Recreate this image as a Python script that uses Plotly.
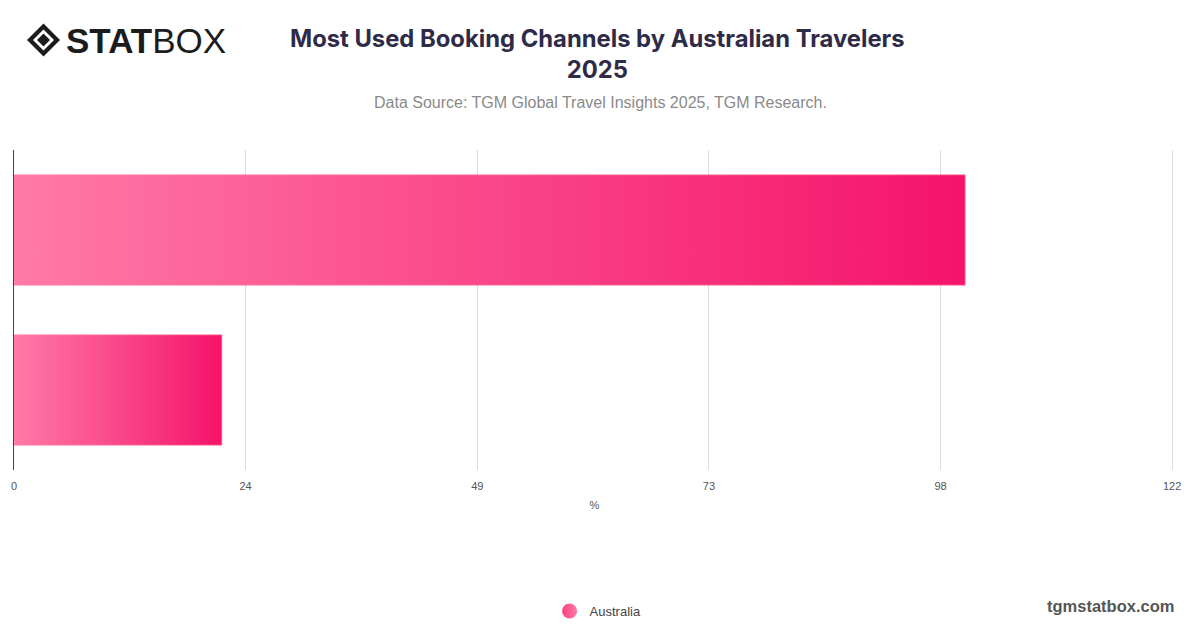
import plotly.graph_objects as go

categories = ["Online travel agencies", "Direct with provider"]
values = [100.2, 21.9]
series_name = "Australia"
tick_values = [0, 24.4, 48.8, 73.2, 97.6, 122]
tick_labels = ["0", "24", "49", "73", "98", "122"]

bar_half = 0.345
fig = go.Figure()
for i, (cat, v) in enumerate(zip(categories, values)):
    fig.add_trace(go.Scatter(
        x=[0, v, v, 0, 0],
        y=[i - bar_half, i - bar_half, i + bar_half, i + bar_half, i - bar_half],
        mode="lines", fill="toself",
        line=dict(width=1, color="rgba(255,140,175,0.7)"),
        fillgradient=dict(type="horizontal",
                          colorscale=[[0, "#ff7aa7"], [1, "#f5136a"]]),
        name=cat, showlegend=False, hoverinfo="skip"))

fig.add_trace(go.Scatter(
    x=[None], y=[None], mode="markers", name=series_name,
    marker=dict(symbol="circle", size=15,
                color="#f7417f",
                gradient=dict(type="horizontal", color="#ff7aa7"))))

# paper coordinate helpers (screen pixels; plot area 14..~1175 x, 150..470 y)
PLOT_W = 1158 * 122.3 / 122
def px(x):
    return (x - 14) / PLOT_W
def py(y):
    return (470 - y) / 320

fig.add_shape(type="path", xref="paper", yref="paper",
              path=f"M {px(27)},{py(40)} L {px(43.5)},{py(23.5)} L {px(60)},{py(40)} L {px(43.5)},{py(56.5)} Z",
              fillcolor="#1c1c1c", line=dict(width=0))
fig.add_shape(type="path", xref="paper", yref="paper",
              path=f"M {px(33)},{py(40)} L {px(43.5)},{py(29.5)} L {px(54)},{py(40)} L {px(43.5)},{py(50.5)} Z",
              fillcolor="white", line=dict(width=0))
fig.add_shape(type="path", xref="paper", yref="paper",
              path=f"M {px(37)},{py(40)} L {px(43.5)},{py(33.5)} L {px(50)},{py(40)} L {px(43.5)},{py(46.5)} Z",
              fillcolor="#1c1c1c", line=dict(width=0))

fig.add_annotation(xref="paper", yref="paper", x=px(64), y=py(40),
                   xanchor="left", yanchor="middle", showarrow=False,
                   text="<b>STAT</b>BOX",
                   font=dict(family="Liberation Sans", size=35, color="#1c1c1c"))

fig.add_annotation(xref="paper", yref="paper", x=px(597), y=py(54),
                   xanchor="center", yanchor="middle", showarrow=False,
                   text="<b>Most Used Booking Channels by Australian Travelers<br>2025</b>",
                   font=dict(family="Inter", size=23.8, color="#2e2b48"))
fig.add_annotation(xref="paper", yref="paper", x=px(600), y=py(102),
                   xanchor="center", yanchor="middle", showarrow=False,
                   text="Data Source: TGM Global Travel Insights 2025, TGM Research.",
                   font=dict(family="Liberation Sans", size=16, color="#8a8a8a"))
fig.add_annotation(xref="paper", yref="paper", x=px(1176), y=py(606),
                   xanchor="right", yanchor="middle", showarrow=False,
                   text="<b>tgmstatbox.com</b>",
                   font=dict(family="Liberation Sans", size=16.5, color="#555555"))

fig.update_layout(
    width=1184, height=612,
    margin=dict(l=6, r=17, t=142, b=150, autoexpand=False),
    plot_bgcolor="white", paper_bgcolor="white",
    showlegend=True,
    legend=dict(orientation="h", x=px(598), xanchor="center",
                y=py(611), yanchor="middle",
                font=dict(family="Liberation Sans", size=13, color="#444444")),
    xaxis=dict(range=[0, 122.3], tickvals=tick_values, ticktext=tick_labels,
               showgrid=True, gridcolor="#dcdcdc", gridwidth=1,
               zeroline=False, showline=False, ticks="",
               ticklabelstandoff=8,
               tickfont=dict(family="Liberation Sans", size=11, color="#555555"),
               title=dict(text="%", standoff=10,
                          font=dict(family="Liberation Sans", size=11, color="#555555"))),
    yaxis=dict(range=[1.5, -0.5], showticklabels=False, showgrid=False,
               zeroline=False, showline=True, linecolor="#444444", linewidth=1,
               ticks=""),
)

fig.write_html("out.html")
